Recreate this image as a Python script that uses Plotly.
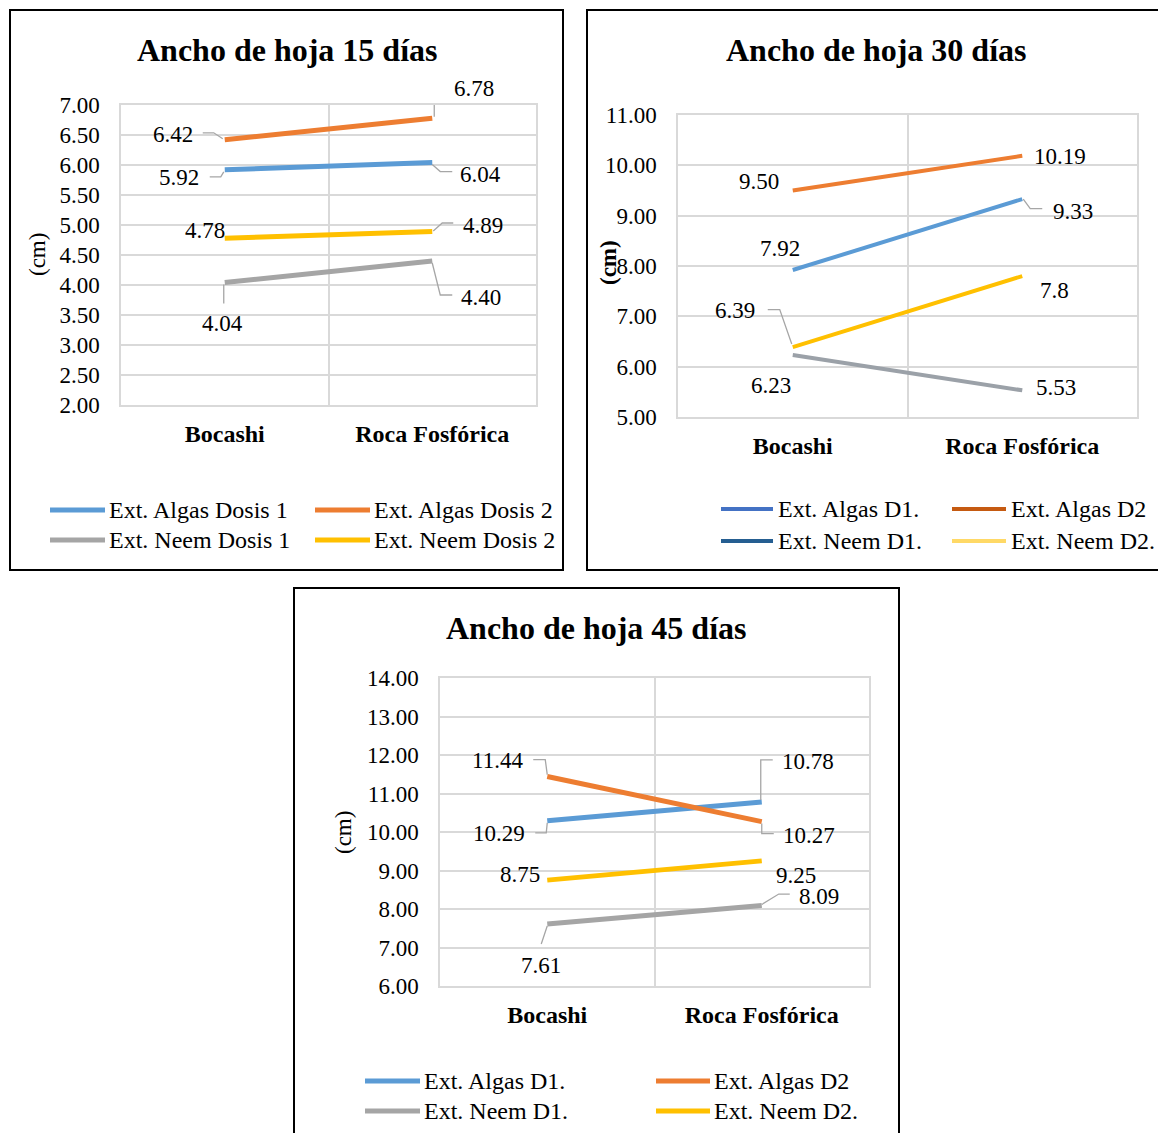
import plotly.graph_objects as go

W, H = 1158, 1133
FONT = "Liberation Serif"

# ---------------- data ----------------
categories = ["Bocashi", "Roca Fosfórica"]

p1_title = "Ancho de hoja 15 días"
p1_names = ["Ext. Algas Dosis 1", "Ext. Algas Dosis 2", "Ext. Neem Dosis 1", "Ext. Neem Dosis 2"]
p1_algas_d1 = [5.92, 6.04]
p1_algas_d2 = [6.42, 6.78]
p1_neem_d1 = [4.04, 4.40]
p1_neem_d2 = [4.78, 4.89]
p1_labels = [["5.92", "6.04"], ["6.42", "6.78"], ["4.04", "4.40"], ["4.78", "4.89"]]

p2_title = "Ancho de hoja 30 días"
p2_names = ["Ext. Algas D1.", "Ext. Algas D2", "Ext. Neem D1.", "Ext. Neem D2."]
p2_algas_d1 = [7.92, 9.33]
p2_algas_d2 = [9.50, 10.19]
p2_neem_d1 = [6.23, 5.53]
p2_neem_d2 = [6.39, 7.8]
p2_labels = [["7.92", "9.33"], ["9.50", "10.19"], ["6.23", "5.53"], ["6.39", "7.8"]]

p3_title = "Ancho de hoja 45 días"
p3_names = ["Ext. Algas D1.", "Ext. Algas D2", "Ext. Neem D1.", "Ext. Neem D2."]
p3_algas_d1 = [10.29, 10.78]
p3_algas_d2 = [11.44, 10.27]
p3_neem_d1 = [7.61, 8.09]
p3_neem_d2 = [8.75, 9.25]
p3_labels = [["10.29", "10.78"], ["11.44", "10.27"], ["7.61", "8.09"], ["8.75", "9.25"]]

y_title = "(cm)"

# ---------------- styles / layout (pixels) ----------------
SERIES_COLORS = ["#5B9BD5", "#ED7D31", "#A5A5A5", "#FFC000"]
P2_SERIES_COLORS = ["#5B9BD5", "#ED7D31", "#9BA1A8", "#FFC000"]
P2_LEGEND_COLORS = ["#4472C4", "#C55A11", "#255E91", "#FFD966"]
GRID = "#D9D9D9"
LEADER = "#A6A6A6"


def px(x):
    return x / W


def py(y):
    return 1 - y / H


panels = [
    dict(
        title=p1_title, names=p1_names,
        series=[p1_algas_d1, p1_algas_d2, p1_neem_d1, p1_neem_d2],
        labels=p1_labels, colors=SERIES_COLORS, legend_colors=SERIES_COLORS,
        lw=5, legend_lw=5,
        border=(10, 10, 563, 570),
        plot=(121, 105, 536, 405), yrange=[2, 7], dtick=0.5,
        title_xy=(287, 50), ytitle_xy=(37, 255), ytitle_bold=False,
        legend_rows=(510, 540), legend_cols=((50, 105, 107), (315, 370, 372)),
        label_off=[[(-46, -8), (48, -12)], [(-52, 5), (42, 29.5)],
                   [(-2, -41), (49, -36)], [(-20, 8), (51, 6.6)]],
        leaders=[[[(-15, -7), (-4, -7), (-1, -2)], [(0, -2), (8, -9), (20, -9)]],
                 [[(-22, 7), (-11, 7), (-2, 1)], [(20, 30.5), (2, 30.5), (2, 1.5)]],
                 [[(-1, -2), (-1, -21)], [(0, -2), (8, -34), (20, -34)]],
                 [None, [(1, 0.6), (10, 8.6), (21, 8.6)]]],
    ),
    dict(
        title=p2_title, names=p2_names,
        series=[p2_algas_d1, p2_algas_d2, p2_neem_d1, p2_neem_d2],
        labels=p2_labels, colors=P2_SERIES_COLORS, legend_colors=P2_LEGEND_COLORS,
        lw=4, legend_lw=4,
        border=(587, 10, 1162, 570),
        plot=(678, 115, 1137, 417), yrange=[5, 11], dtick=1,
        title_xy=(876, 50), ytitle_xy=(608, 263), ytitle_bold=True,
        legend_rows=(509, 541), legend_cols=((721, 773, 776), (952, 1006, 1009)),
        label_off=[[(-13, 22), (51, -12)], [(-34, 9), (38, -1)],
                   [(-22, -30), (34, 3)], [(-57.5, 37), (32, -14)]],
        leaders=[[None, [(1, 0), (8, -9.5), (20, -9.5)]],
                 [None, None],
                 [None, None],
                 [[(-25, 37.4), (-13, 37.4), (-1, 3)], None]],
    ),
    dict(
        title=p3_title, names=p3_names,
        series=[p3_algas_d1, p3_algas_d2, p3_neem_d1, p3_neem_d2],
        labels=p3_labels, colors=SERIES_COLORS, legend_colors=SERIES_COLORS,
        lw=5, legend_lw=5,
        border=(294, 588, 899, 1140),
        plot=(440, 678, 869, 986), yrange=[6, 14], dtick=1,
        title_xy=(596, 628), ytitle_xy=(343, 833), ytitle_bold=False,
        legend_rows=(1081, 1111), legend_cols=((365, 420, 422), (656, 710, 712)),
        label_off=[[(-48, -13), (46, 40.4)], [(-49.5, 16), (47, -14)],
                   [(-6.4, -41), (57, 9.5)], [(-27, 6), (34, -14.6)]],
        leaders=[[[(-12, -12), (-1, -12), (0, -2)], [(11, 42), (-1, 42), (-1, 2)]],
                 [[(-14, 17), (-2, 17), (0, 2)], [(0, -2), (0, -12), (12, -12)]],
                 [[(0, -2), (-6, -20)], [(0, 1), (17, 11.5), (28, 11.5)]],
                 [None, None]],
    ),
]

fig = go.Figure()
shapes = []
annotations = []
layout_axes = {}

for i, p in enumerate(panels, start=1):
    xa = "x" if i == 1 else f"x{i}"
    ya = "y" if i == 1 else f"y{i}"
    xkey = "xaxis" if i == 1 else f"xaxis{i}"
    ykey = "yaxis" if i == 1 else f"yaxis{i}"
    l, t, r, b = p["plot"]

    for s, (vals, name, col) in enumerate(zip(p["series"], p["names"], p["colors"])):
        fig.add_trace(go.Scatter(
            x=categories, y=vals, name=name, mode="lines",
            line=dict(color=col, width=p["lw"]),
            xaxis=xa, yaxis=ya, showlegend=False, hoverinfo="skip",
        ))
        for c in range(len(categories)):
            dx, dy = p["label_off"][s][c]
            annotations.append(dict(
                x=categories[c], y=vals[c], xref=xa, yref=ya,
                text=p["labels"][s][c], showarrow=False,
                xshift=dx, yshift=dy,
                font=dict(family=FONT, size=23, color="#000000"),
            ))
            pts = p["leaders"][s][c]
            if pts:
                path = "M " + " L ".join(f"{a},{bb}" for a, bb in pts)
                shapes.append(dict(
                    type="path", path=path, xref=xa, yref=ya,
                    xsizemode="pixel", ysizemode="pixel",
                    xanchor=categories[c], yanchor=vals[c],
                    line=dict(color=LEADER, width=1.3), layer="above",
                ))

    layout_axes[xkey] = dict(
        domain=[px(l), px(r)], anchor=ya, type="category",
        categoryorder="array", categoryarray=categories,
        range=[-0.5, 1.5], tickson="boundaries", automargin=False,
        showgrid=True, gridcolor=GRID, gridwidth=1.5,
        showline=True, linecolor=GRID, linewidth=1.5, mirror=True,
        ticks="", tickmode="array", tickvals=categories,
        ticktext=[f"<b>{c}</b>" for c in categories],
        tickfont=dict(family=FONT, size=24, color="#000000"),
        ticklabelstandoff=6, zeroline=False, fixedrange=True,
    )
    layout_axes[ykey] = dict(
        domain=[py(b), py(t)], anchor=xa, range=p["yrange"], dtick=p["dtick"],
        tick0=p["yrange"][0], tickformat=".2f", automargin=False,
        showgrid=True, gridcolor=GRID, gridwidth=1.5,
        showline=True, linecolor=GRID, linewidth=1.5, mirror=True,
        ticks="", tickfont=dict(family=FONT, size=23, color="#000000"),
        ticklabelstandoff=15, zeroline=False, fixedrange=True,
    )

    # panel border
    bl, bt, br, bb = p["border"]
    shapes.append(dict(type="rect", xref="paper", yref="paper",
                       x0=px(bl), x1=px(br), y0=py(bb), y1=py(bt),
                       line=dict(color="#000000", width=2), layer="below"))
    # title
    tx, ty = p["title_xy"]
    annotations.append(dict(x=px(tx), y=py(ty), xref="paper", yref="paper",
                            text=f"<b>{p['title']}</b>", showarrow=False,
                            xanchor="center", yanchor="middle",
                            font=dict(family=FONT, size=32, color="#000000")))
    # y axis title
    yx, yy = p["ytitle_xy"]
    yt = f"<b>{y_title}</b>" if p["ytitle_bold"] else y_title
    annotations.append(dict(x=px(yx), y=py(yy), xref="paper", yref="paper",
                            text=yt, showarrow=False, textangle=-90,
                            xanchor="center", yanchor="middle",
                            font=dict(family=FONT, size=23, color="#000000")))
    # legend (drawn manually, 2 columns x 2 rows)
    for s, (name, col) in enumerate(zip(p["names"], p["legend_colors"])):
        row = p["legend_rows"][s // 2]
        x0, x1, xt = p["legend_cols"][s % 2]
        shapes.append(dict(type="line", xref="paper", yref="paper",
                           x0=px(x0), x1=px(x1), y0=py(row), y1=py(row),
                           line=dict(color=col, width=p["legend_lw"])))
        annotations.append(dict(x=px(xt), y=py(row), xref="paper", yref="paper",
                                text=name, showarrow=False,
                                xanchor="left", yanchor="middle",
                                font=dict(family=FONT, size=24, color="#000000")))

fig.update_layout(
    width=W, height=H,
    margin=dict(l=0, r=0, t=0, b=0, pad=0, autoexpand=False),
    paper_bgcolor="#FFFFFF", plot_bgcolor="#FFFFFF",
    showlegend=False,
    shapes=shapes, annotations=annotations,
    **layout_axes,
)

fig.write_html("out.html", config={"displayModeBar": False})
